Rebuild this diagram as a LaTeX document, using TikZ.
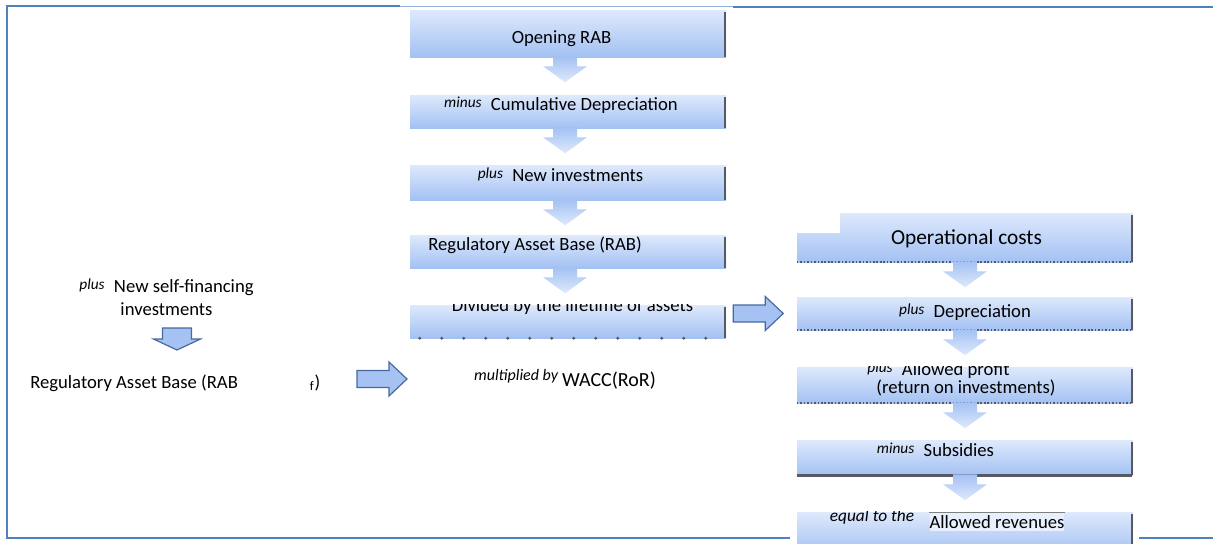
\documentclass[tikz,border=0pt]{standalone}
\usepackage{fontspec}
\setmainfont{Carlito}
\usetikzlibrary{calc}

\definecolor{framebl}{RGB}{79,129,189}
\definecolor{boxtop}{RGB}{222,233,252}
\definecolor{boxbot}{RGB}{163,193,243}
\definecolor{blkfill}{RGB}{165,194,243}
\definecolor{blkline}{RGB}{70,106,160}
\definecolor{rimgray}{RGB}{88,90,98}

\newcommand{\pfx}[1]{\raisebox{2pt}{\fontsize{11.5}{13}\selectfont\itshape #1}\hspace{7pt}}

\begin{document}
\begin{tikzpicture}[x=0.75pt,y=-0.75pt,
    box/.style 2 args={inner sep=0pt, top color=boxtop, bottom color=boxbot,
      minimum width=#1*0.75pt, minimum height=#2*0.75pt},
    txt/.style={inner sep=0pt, anchor=base, font=\fontsize{14}{16}\selectfont},
    rim/.style={draw=rimgray, line width=2pt},
    dots/.style={draw=rimgray, line width=1.6pt, dash pattern=on 1.2pt off 1.4pt},
    chev/.pic={\shade[top color=boxbot, bottom color=boxtop]
      (-12,-1) -- (12,-1) -- (12,9) -- (22,9) -- (0,25) -- (-22,9) -- (-12,9) -- cycle;},
    rblk/.pic={\draw[blkline, fill=blkfill, line width=0.9pt]
      (0,-8.5) -- (32,-8.5) -- (32,-17) -- (50,0) -- (32,17) -- (32,8.5) -- (0,8.5) -- cycle;},
    dblk/.pic={\draw[blkline, fill=blkfill, line width=0.9pt]
      (-14.5,0) -- (14.5,0) -- (14.5,11) -- (23.5,11) -- (0,22) -- (-23.5,11) -- (-14.5,11) -- cycle;}]
  \useasboundingbox (0,0) rectangle (1213,543);
  % frame
  \draw[framebl, line width=1.5pt] (400,6) -- (7,6) -- (7,538) -- (790,538);
  \draw[framebl!60, line width=0.6pt] (400,6) -- (733,6);
  \draw[framebl, line width=1.5pt] (733,7) -- (1213,7);
  \draw[framebl, line width=1.5pt] (1139,538) -- (1213,538);

  % RAB column
  \node[box={316}{47}] (open) at (568,33.5) {};
  \node[box={316}{33}] (cum) at (568,111.5) {};
  \node[box={316}{35}] (inv) at (568,182.5) {};
  \node[box={316}{33}] (rab) at (568,251.5) {};
  \node[box={316}{33}] (life) at (568,321.5) {};

  % revenue column
  \node[box={336}{49}] (opc) at (965,237.5) {};
  \node[box={336}{33}] (dep) at (965,313.5) {};
  \node[box={336}{36}] (prof) at (965,385) {};
  \node[box={336}{35}] (sub) at (965,457.5) {};
  \node[box={336}{43}] (rev) at (965,533.5) {};
  \fill[white] (796,211) rectangle (840,233);

  \foreach \b in {open,cum,inv,rab,life,opc,dep,prof,sub,rev}
    \draw[rim] ([xshift=-1pt,yshift=-2pt]\b.north east) -- ([xshift=-1pt]\b.south east);
  \foreach \b in {opc,dep,prof}
    \draw[dots] (\b.south west) -- ([xshift=-1pt]\b.south east);
  \draw[rim] (sub.south west) -- ([xshift=-1pt]sub.south east);
  \draw[rimgray, line width=2.4pt, line cap=round, dash pattern=on 0pt off 16.5pt]
    ([xshift=7.5pt]life.south west) -- (life.south east);

  % arrows between the boxes
  \foreach \b in {open,cum,inv,rab}
    \pic at ([xshift=-2.2pt]\b.south) {chev};
  \foreach \b in {opc,dep,prof,sub}
    \pic at (\b.south) {chev};

  % texts
  \node[txt] (topen) at (561.5,43) {Opening RAB};
  \node[txt] (tcum) at (561,110) {\pfx{minus}Cumulative Depreciation};
  \node[txt] (tinv) at (560.5,181) {\pfx{plus}New investments};
  \node[txt] (trab) at (535,250) {Regulatory Asset Base (RAB)};
  \begin{scope}
    \clip (life.north west) rectangle (life.south east);
    \node[txt] (tlife) at (572.5,311) {Divided by the lifetime of assets};
  \end{scope}
  \node[txt] (tmult) at (565,386) {\raisebox{4pt}{\fontsize{12}{13}\selectfont\itshape multiplied by} {\fontsize{15}{17}\selectfont WACC(RoR)}};

  \node[txt, font=\fontsize{16}{18}\selectfont] (topc) at (966.5,244) {Operational costs};
  \node[txt] (tdep) at (965,317) {\pfx{plus}Depreciation};
  \begin{scope}
    \clip (prof.north west) rectangle (prof.south east);
    \node[txt] (tprof) at (938.5,375) {\pfx{plus}Allowed profit};
  \end{scope}
  \node[txt] (tret) at (966,393) {(return on investments)};
  \node[txt] (tsub) at (935.5,456) {\pfx{minus}Subsidies};
  \begin{scope}
    \clip (rev.north west) rectangle (rev.south east);
    \node[txt, font=\fontsize{13}{15}\selectfont\itshape] (teq) at (872,521) {equal to the};
  \end{scope}
  \node[txt, fill=boxtop!70!white, inner ysep=2pt] (trev) at (997,528) {Allowed revenues};
  \draw[gray, line width=0.8pt] (trev.north west) -- (trev.north east);

  % self-financed part
  \node[txt] (tself) at (166.5,292) {\pfx{plus}New self-financing};
  \node[txt] (tselfb) at (166.5,315) {investments};
  \node[txt, anchor=base west] (trabf) at (30,388) {Regulatory Asset Base (RAB\hspace{54pt}\textsubscript{f})};
  \pic at (177,328) {dblk};
  \pic at (357,379) {rblk};
  \pic at ($(life.east |- dep.west)+(7,0)$) {rblk};
\end{tikzpicture}
\end{document}
